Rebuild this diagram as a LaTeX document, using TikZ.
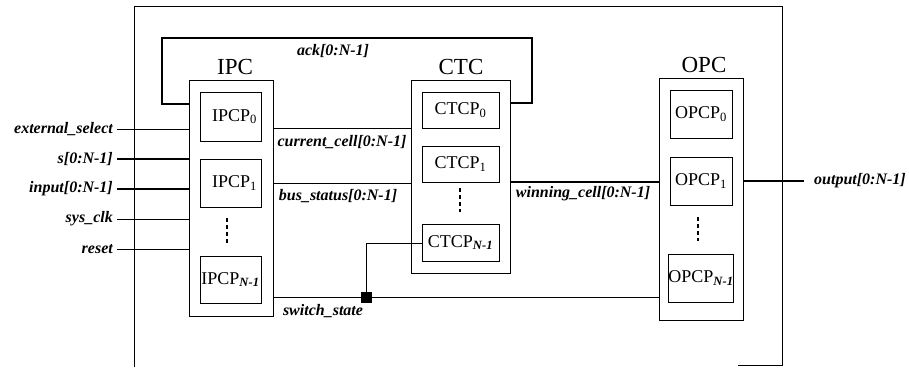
\documentclass[tikz,border=0pt]{standalone}
\usepackage{fontspec}
\setmainfont{Liberation Serif}
\begin{document}
\begin{tikzpicture}[x=1pt,y=-1pt,
  thinln/.style={line width=0.8pt},
  busln/.style={line width=1.4pt},
  outerbox/.style={line width=0.8pt},
  groupbox/.style={draw,line width=0.8pt,inner sep=0pt},
  cellbox/.style={draw,line width=0.8pt,inner sep=0pt,font=\fontsize{18}{18}\selectfont},
  grouplbl/.style={font=\fontsize{23}{23}\selectfont},
  sig/.style={font=\fontsize{16}{16}\selectfont\bfseries\itshape,inner sep=1pt},
  dotsln/.style={line width=1.4pt,dash pattern=on 4pt off 3pt},
  junc/.style={fill=black,draw=black,minimum size=10pt,inner sep=0pt}
]
\useasboundingbox (0,0) rectangle (909,367);
% outer frame
\draw[outerbox] (134,367) -- (134,6) -- (782,6) -- (782,365) -- (738,365);

% IPC
\node[groupbox,minimum width=84pt,minimum height=236pt] (ipc) at (231,198) {};
\node[grouplbl] (ipcl) at (235,67) {IPC};
\node[cellbox,minimum width=61pt,minimum height=49pt] (ipcp0) at (230.5,116.5) {\hspace{8pt}IPCP\textsubscript{0}};
\node[cellbox,minimum width=61pt,minimum height=48pt] (ipcp1) at (230.5,183) {\hspace{8pt}IPCP\textsubscript{1}};
\node[cellbox,minimum width=61pt,minimum height=47pt] (ipcpn) at (230.5,279.5) {IPCP\textsubscript{\textbf{\textit{N-1}}}};
\coordinate (ipcd1) at (227,218); \coordinate (ipcd2) at (227,243);
\draw[dotsln] (ipcd1) -- (ipcd2);

% CTC
\node[groupbox,minimum width=99pt,minimum height=193pt] (ctc) at (460.5,176.5) {};
\node[grouplbl] (ctcl) at (461,67) {CTC};
\node[cellbox,minimum width=77pt,minimum height=36pt] (ctcp0) at (460.5,110) {CTCP\textsubscript{0}};
\node[cellbox,minimum width=77pt,minimum height=36pt] (ctcp1) at (460.5,164) {CTCP\textsubscript{1}};
\node[cellbox,minimum width=77pt,minimum height=37pt] (ctcpn) at (460.5,242.5) {CTCP\textsubscript{\textbf{\textit{N-1}}}};
\coordinate (ctcd1) at (460,188); \coordinate (ctcd2) at (460,212);
\draw[dotsln] (ctcd1) -- (ctcd2);

% OPC
\node[groupbox,minimum width=84pt,minimum height=242pt] (opc) at (701,199) {};
\node[grouplbl] (opcl) at (704,65) {OPC};
\node[cellbox,minimum width=62pt,minimum height=48pt] (opcp0) at (701,114) {OPCP\textsubscript{0}};
\node[cellbox,minimum width=62pt,minimum height=48pt] (opcp1) at (701,181) {OPCP\textsubscript{1}};
\node[cellbox,minimum width=62pt,minimum height=48pt] (opcpn) at (701,278) {OPCP\textsubscript{\textbf{\textit{N-1}}}};
\coordinate (opcd1) at (698,217); \coordinate (opcd2) at (698,241);
\draw[dotsln] (opcd1) -- (opcd2);

% ack loop
\coordinate (ackA) at (162,104);
\coordinate (ackB) at (532,38);
\draw[busln] (ipc.west |- ackA) -- (ackA) |- (ackB) |- (ctc.east |- 0,103);
\node[sig] (ackl) at (333,51) {ack[0:N-1]};

% inputs
\coordinate (in1) at (117,129);
\coordinate (in2) at (117,159);
\coordinate (in3) at (117,189);
\coordinate (in4) at (117,219);
\coordinate (in5) at (117,249);
\draw[thinln] (in1) -- (ipc.west |- in1);
\draw[busln] (in2) -- (ipc.west |- in2);
\draw[busln] (in3) -- (ipc.west |- in3);
\draw[thinln] (in4) -- (ipc.west |- in4);
\draw[thinln] (in5) -- (ipc.west |- in5);
\node[sig,anchor=east,xshift=-3pt] (l1) at (in1) {external\_select};
\node[sig,anchor=east,xshift=-3pt] (l2) at (in2) {s[0:N-1]};
\node[sig,anchor=east,xshift=-3pt] (l3) at (in3) {input[0:N-1]};
\node[sig,anchor=east,xshift=-3pt] (l4) at (in4) {sys\_clk};
\node[sig,anchor=east,xshift=-3pt] (l5) at (in5) {reset};

% IPC -> CTC
\coordinate (cc) at (300,128);
\coordinate (bs) at (300,183);
\draw[thinln] (ipc.east |- cc) -- (ctc.west |- cc);
\draw[thinln] (ipc.east |- bs) -- (ctc.west |- bs);
\node[sig] (ccl) at (342,142) {current\_cell[0:N-1]};
\node[sig] (bsl) at (338,196) {bus\_status[0:N-1]};

% switch_state
\node[junc] (j) at (366,297) {};
\draw[thinln] (ipc.east |- j) -- (j) -- (opc.west |- j);
\draw[thinln] (ctcpn.west |- 0,243) -| (j);
\node[sig] (ssl) at (323,311) {switch\_state};

% CTC -> OPC
\coordinate (wc) at (600,182);
\draw[busln] (ctc.east |- wc) -- (opc.west |- wc);
\node[sig] (wcl) at (583,194) {winning\_cell[0:N-1]};

% output
\coordinate (outp) at (804,181);
\draw[busln] (opc.east |- outp) -- (outp);
\node[sig,anchor=west] (outl) at (813,181) {output[0:N-1]};
\end{tikzpicture}
\end{document}
